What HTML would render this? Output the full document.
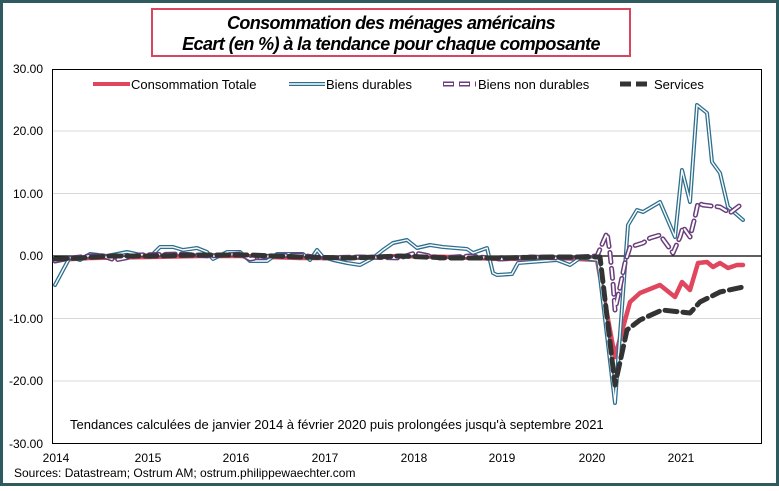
<!DOCTYPE html>
<html><head><meta charset="utf-8"><style>
body{margin:0;width:779px;height:486px;overflow:hidden;background:#fff;font-family:"Liberation Sans",sans-serif}
</style></head><body>
<svg width="779" height="486" xmlns="http://www.w3.org/2000/svg" font-family="Liberation Sans, sans-serif">
<rect x="1.5" y="1.5" width="776" height="483" fill="#fff" stroke="#2f5b5e" stroke-width="3"/>
<rect x="152" y="9" width="478" height="47" fill="#fff" stroke="#d9455f" stroke-width="2"/>
<text x="391" y="29" text-anchor="middle" font-size="18" font-weight="bold" font-style="italic" letter-spacing="-0.6">Consommation des ménages américains</text>
<text x="391" y="50" text-anchor="middle" font-size="18" font-weight="bold" font-style="italic" letter-spacing="-0.6">Ecart (en %)  à la tendance pour chaque composante</text>
<g stroke="#d9d9d9" stroke-width="1">
<line x1="52" x2="762" y1="131" y2="131"/><line x1="52" x2="762" y1="193.5" y2="193.5"/>
<line x1="52" x2="762" y1="318.5" y2="318.5"/><line x1="52" x2="762" y1="381" y2="381"/>
</g>
<rect x="52.5" y="69.5" width="709" height="374" fill="none" stroke="#000" stroke-width="1"/>
<line x1="52" x2="762" y1="256" y2="256" stroke="#000" stroke-width="1.2"/>
<g font-size="12" text-anchor="end" fill="#000">
<text x="43" y="73">30.00</text><text x="43" y="135">20.00</text><text x="43" y="198">10.00</text>
<text x="43" y="260">0.00</text><text x="43" y="323">-10.00</text><text x="43" y="385">-20.00</text><text x="43" y="448">-30.00</text>
</g>
<g font-size="12" text-anchor="middle">
<text x="56" y="462">2014</text><text x="148" y="462">2015</text><text x="236" y="462">2016</text><text x="325" y="462">2017</text>
<text x="414" y="462">2018</text><text x="502" y="462">2019</text><text x="592" y="462">2020</text><text x="681" y="462">2021</text>
</g>
<text x="14" y="477" font-size="12">Sources: Datastream; Ostrum AM;  ostrum.philippewaechter.com</text>
<text x="70" y="429" font-size="13">Tendances calculées de janvier 2014 à février 2020 puis prolongées jusqu'à septembre 2021</text>
<!-- legend -->
<line x1="93" x2="130" y1="84" y2="84" stroke="#e0475f" stroke-width="4"/>
<text x="131" y="89" font-size="13">Consommation Totale</text>
<line x1="289" x2="325" y1="84" y2="84" stroke="#2e6f8e" stroke-width="4"/>
<line x1="289" x2="325" y1="84" y2="84" stroke="#fff" stroke-width="1.5"/>
<text x="326" y="89" font-size="13">Biens durables</text>
<line x1="443" x2="476" y1="84" y2="84" stroke="#6a3d7c" stroke-width="5" stroke-dasharray="11 5"/>
<line x1="443" x2="476" y1="84" y2="84" stroke="#fff" stroke-width="2" stroke-dasharray="9 7" stroke-dashoffset="-1"/>
<text x="478" y="89" font-size="13">Biens non durables</text>
<line x1="620" x2="652" y1="84" y2="84" stroke="#333" stroke-width="5" stroke-dasharray="11 5"/>
<text x="654" y="89" font-size="13">Services</text>
<!-- series -->
<g fill="none" stroke-linejoin="round" stroke-linecap="round">
<polyline stroke="#e0475f" stroke-width="4.5" points="55,260 90,258 150,257 200,256 240,256 300,258 350,258 400,256 450,257 500,259 560,258 597,260 615,357 630,302 640,293 660,285 675,297 682,282 690,290 698,263 707,262 713,267 720,263 728,268 737,265 743,265"/>
<g id="dur">
<polyline stroke="#2e6f8e" stroke-width="4" points="55,285 70,257 80,260 90,254 107,256 127,252 150,257 160,247 173,247 183,250 197,248 207,252 213,259 227,252 240,252 250,261 267,261 277,254 303,254 310,260 317,250 323,257 333,260 347,263 360,265 373,258 383,250 393,243 407,240 417,248 430,245 443,247 467,249 473,253 487,248 493,273 497,275 512,274 518,263 557,260 570,265 580,258 598,260 615,403 628,225 637,210 643,212 660,202 675,237 682,170 690,202 697,105 707,113 712,162 720,173 728,207 743,220"/>
<polyline stroke="#fff" stroke-width="1.4" points="55,285 70,257 80,260 90,254 107,256 127,252 150,257 160,247 173,247 183,250 197,248 207,252 213,259 227,252 240,252 250,261 267,261 277,254 303,254 310,260 317,250 323,257 333,260 347,263 360,265 373,258 383,250 393,243 407,240 417,248 430,245 443,247 467,249 473,253 487,248 493,273 497,275 512,274 518,263 557,260 570,265 580,258 598,260 615,403 628,225 637,210 643,212 660,202 675,237 682,170 690,202 697,105 707,113 712,162 720,173 728,207 743,220"/>
</g>
<polyline stroke="#6a3d7c" stroke-width="5" stroke-dasharray="10 6" points="55,261 70,258 100,255 115,260 140,255 180,254 210,256 240,254 250,259 270,256 300,255 320,258 360,257 400,258 415,253 440,258 470,256 500,259 530,257 560,258 597,256 607,233 610,253 613,283 615,310 620,287 625,263 630,247 643,243 650,238 660,235 673,253 680,237 683,227 690,237 695,217 698,203 703,205 720,207 730,213 743,203"/>
<polyline stroke="#fff" stroke-width="2" stroke-dasharray="10 6" points="55,261 70,258 100,255 115,260 140,255 180,254 210,256 240,254 250,259 270,256 300,255 320,258 360,257 400,258 415,253 440,258 470,256 500,259 530,257 560,258 597,256 607,233 610,253 613,283 615,310 620,287 625,263 630,247 643,243 650,238 660,235 673,253 680,237 683,227 690,237 695,217 698,203 703,205 720,207 730,213 743,203"/>
<polyline stroke="#333" stroke-width="5" stroke-dasharray="12 6" points="55,259 80,258 110,256 150,256 200,255 250,255 300,257 350,258 400,256 450,258 500,258 550,257 600,257 615,385 627,330 640,320 662,310 690,313 700,302 720,292 743,287"/>
</g>
</svg>
</body></html>
